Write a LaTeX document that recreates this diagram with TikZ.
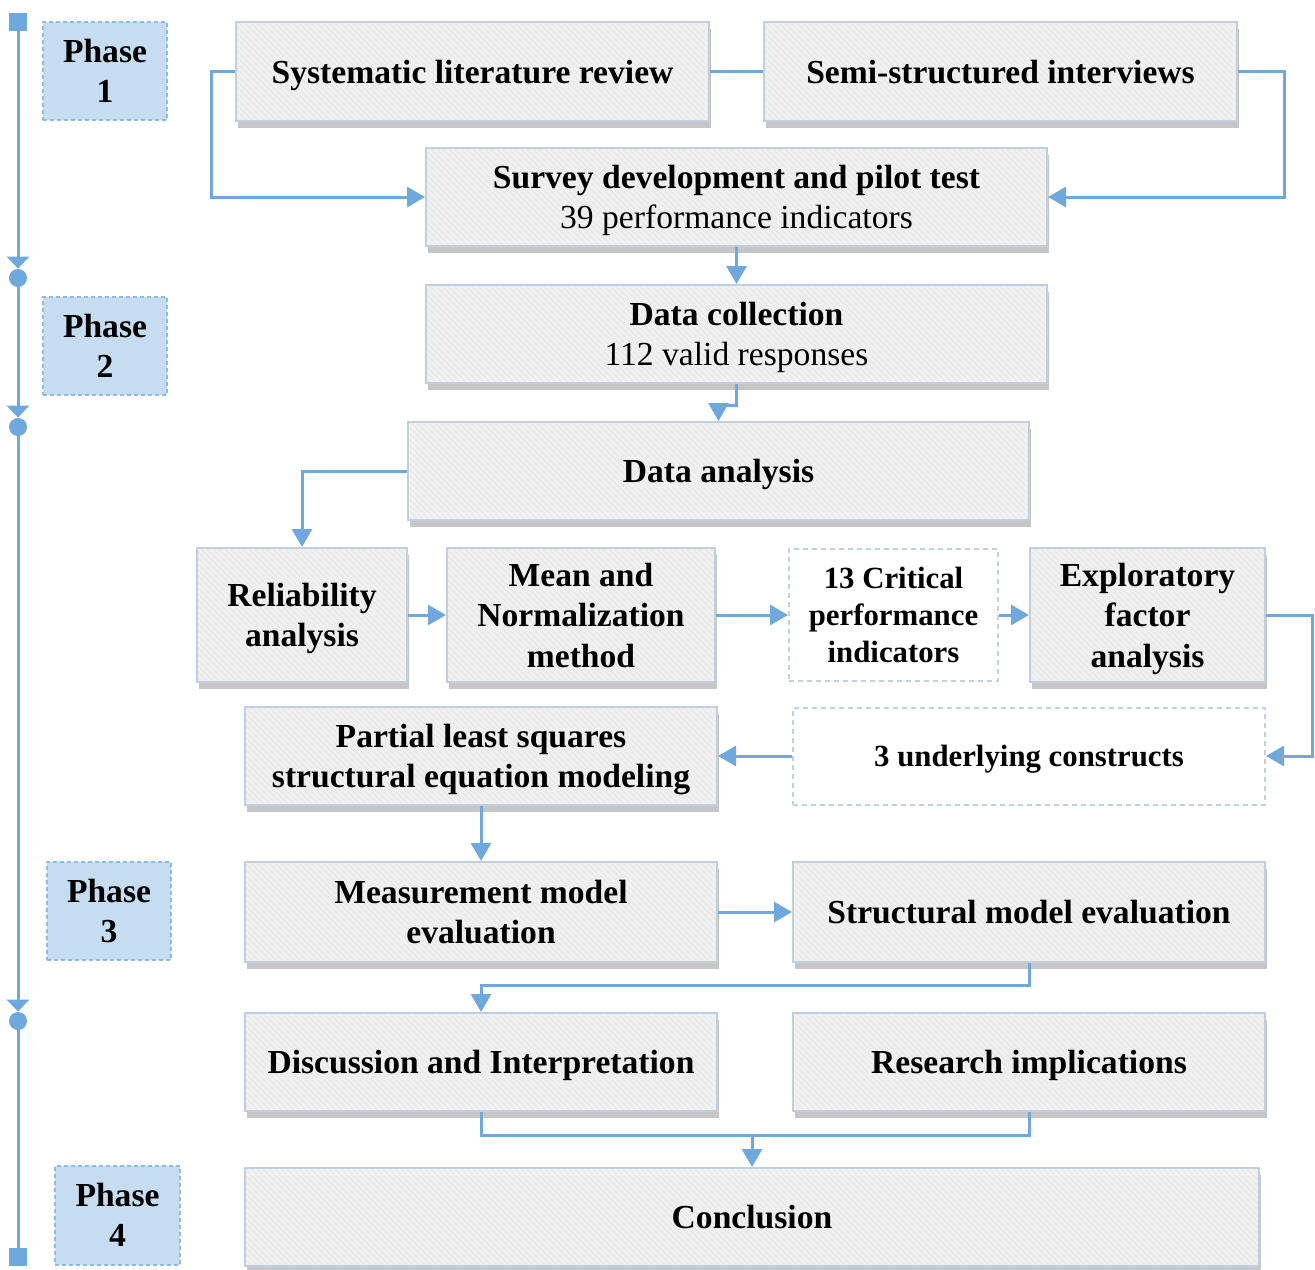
\documentclass[tikz,border=0pt]{standalone}
\usepackage{fontspec}
\setmainfont{Liberation Serif}
\usetikzlibrary{arrows.meta,shadows,patterns,calc}
\definecolor{lineblue}{RGB}{111,168,220}
\definecolor{phasefill}{RGB}{198,221,241}
\definecolor{phaseborder}{RGB}{141,187,227}
\definecolor{boxfill}{RGB}{236,236,236}
\definecolor{boxstripe}{RGB}{245,245,245}
\definecolor{boxborder}{RGB}{192,206,221}
\definecolor{shadowc}{RGB}{198,198,198}
\definecolor{dashborder}{RGB}{192,210,226}
\begin{document}
\begin{tikzpicture}[x=0.5pt,y=-0.5pt,
  wh/.style 2 args={minimum width=#1*0.5pt, minimum height=#2*0.5pt},
  bigfont/.style={font=\fontsize{16.8}{20.25}\selectfont\bfseries},
  smallfont/.style={font=\fontsize{15.4}{18.5}\selectfont\bfseries},
  procbox/.style={draw=boxborder, line width=1pt, inner sep=0pt, align=center, bigfont,
    text depth=0pt,
    general shadow={shadow yshift=-3.5pt, shadow xshift=1pt, fill=shadowc},
    preaction={fill=boxfill}, pattern=north west lines, pattern color=boxstripe},
  dashbox/.style={draw=dashborder, dashed, dash pattern=on 2.5pt off 2pt, line width=1pt,
    fill=white, inner sep=0pt, align=center, smallfont, text depth=0pt},
  phasebox/.style={draw=phaseborder, dash pattern=on 2pt off 1.5pt, line width=1pt,
    fill=phasefill, inner sep=0pt, align=center, bigfont},
  conn/.style={draw=lineblue, line width=1.5pt, -{Triangle[width=10pt,length=9pt]}},
  plain/.style={draw=lineblue, line width=1.5pt},
  tlsq/.style={fill=lineblue, minimum size=9pt, inner sep=0pt},
  tldot/.style={circle, fill=lineblue, minimum size=9pt, inner sep=0pt},
  tlarrow/.style={draw=lineblue, line width=1.5pt, -{Triangle[width=11pt,length=6pt]}},
]
\useasboundingbox (0,0) rectangle (1315,1269);

% phase boxes
\node[phasebox, wh={124}{98}] (p1) at (105,71) {Phase\\1};
\node[phasebox, wh={124}{98}] (p2) at (105,346) {Phase\\2};
\node[phasebox, wh={124}{98}] (p3) at (109,911) {Phase\\3};
\node[phasebox, wh={125}{99}] (p4) at (117.5,1215) {Phase\\4};

% timeline
\node[tlsq] (ts) at (18,22) {};
\node[tldot] (d1) at (18,278) {};
\node[tldot] (d2) at (18,427) {};
\node[tldot] (d3) at (18,1021) {};
\node[tlsq] (te) at (18,1257) {};
\draw[tlarrow] (ts) -- (d1);
\draw[tlarrow] (d1) -- (d2);
\draw[tlarrow] (d2) -- (d3);
\draw[plain] (d3) -- (te);

% process boxes
\node[procbox, wh={473}{99}] (slr) at (472.5,71.5) {Systematic literature review};
\node[procbox, wh={473}{99}] (ssi) at (1000.5,71.5) {Semi-structured interviews};
\node[procbox, wh={621}{98}] (survey) at (736.5,197) {Survey development and pilot test\\{\mdseries 39 performance indicators}};
\node[procbox, wh={621}{98}] (dc) at (736.5,334) {Data collection\\{\mdseries 112 valid responses}};
\node[procbox, wh={621}{98}] (da) at (718.5,471) {Data analysis};
\node[procbox, wh={210}{134}] (rel) at (302,615) {Reliability\\analysis};
\node[procbox, wh={268}{134}] (mean) at (581,615) {Mean and\\Normalization\\method};
\node[dashbox, wh={209}{132}] (crit) at (893.5,615) {13 Critical\\performance\\indicators};
\node[procbox, wh={235}{134}] (efa) at (1147.5,615) {Exploratory\\factor\\analysis};
\node[procbox, wh={472}{98}] (pls) at (481,756) {Partial least squares\\structural equation modeling};
\node[dashbox, wh={472}{97}] (und) at (1029,756) {3 underlying constructs};
\node[procbox, wh={472}{100}] (mme) at (481,912) {Measurement model\\evaluation};
\node[procbox, wh={472}{100}] (sme) at (1029,912) {Structural model evaluation};
\node[procbox, wh={472}{98}] (disc) at (481,1062) {Discussion and Interpretation};
\node[procbox, wh={472}{98}] (ri) at (1029,1062) {Research implications};
\node[procbox, wh={1014}{98}] (conc) at (752,1217) {Conclusion};

% connectors
\draw[conn] (slr.west) -- ++(-24,0) |- (survey.west);
\draw[plain] (slr.east) -- (ssi.west);
\draw[conn] (ssi.east) -- ++(46,0) |- (survey.east);
\draw[conn] (survey.south) -- (dc.north);
\draw[conn] (dc.south) -- ++(0,21) -| (da.north);
\draw[conn] (da.west) -| (rel.north);
\draw[conn] (rel.east) -- (mean.west);
\draw[conn] (mean.east) -- (crit.west);
\draw[conn] (crit.east) -- (efa.west);
\draw[conn] (efa.east) -- ++(46,0) |- (und.east);
\draw[conn] (und.west) -- (pls.east);
\draw[conn] (pls.south) -- (mme.north);
\draw[conn] (mme.east) -- (sme.west);
\draw[conn] (sme.south) -- ++(0,22) -| (disc.north);
\coordinate (j) at ($(disc.south)+(0,23)$);
\draw[plain] (disc.south) -- (j) -| (ri.south);
\draw[conn] (conc.north |- j) -- (conc.north);
\end{tikzpicture}
\end{document}
